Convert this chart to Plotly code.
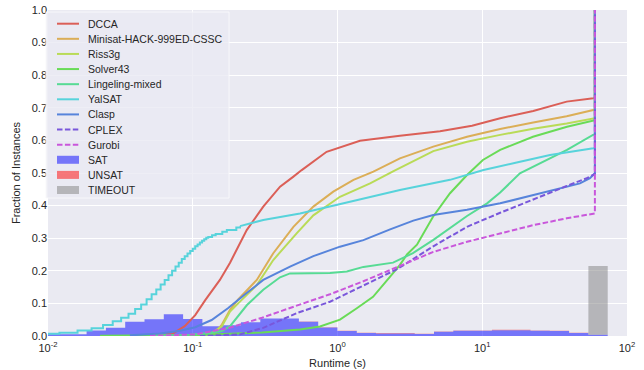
import numpy as np
import plotly.graph_objects as go

# ---------------- data (runtime in seconds, fraction of instances) ----------------
dcca_t = [0.043, 0.059, 0.072, 0.088, 0.104, 0.122, 0.154, 0.181, 0.236, 0.307, 0.401, 0.496, 0.566, 0.841,
          1.43, 2.70, 5.11, 8.5, 13.3, 22.5, 38.3, 58.5, 60, 60]
dcca_f = [0.001, 0.003, 0.006, 0.030, 0.064, 0.110, 0.172, 0.225, 0.325, 0.397, 0.458, 0.489, 0.509, 0.565,
          0.599, 0.614, 0.628, 0.645, 0.668, 0.690, 0.719, 0.729, 0.730, 1.0]

minisat_t = [0.0957, 0.122, 0.143, 0.159, 0.181, 0.206, 0.277, 0.360, 0.496, 0.681, 0.935, 1.29, 1.77,
             2.70, 4.59, 7.85, 13.3, 22.5, 38.3, 58.5, 60, 60]
minisat_f = [0.0, 0.005, 0.010, 0.035, 0.080, 0.112, 0.172, 0.254, 0.335, 0.397, 0.443, 0.479, 0.504,
             0.545, 0.581, 0.611, 0.635, 0.655, 0.674, 0.693, 0.695, 1.0]

riss_t = [0.104, 0.131, 0.159, 0.181, 0.206, 0.277, 0.360, 0.522, 0.681, 1.04, 1.68, 2.42, 4.59, 7.85,
          13.3, 22.5, 38.3, 58.5, 60, 60]
riss_f = [0.0, 0.005, 0.030, 0.075, 0.100, 0.156, 0.233, 0.315, 0.370, 0.427, 0.468, 0.505, 0.567, 0.596,
          0.617, 0.636, 0.652, 0.666, 0.668, 1.0]

solver43_t = [0.0229, 0.104, 0.301, 0.551, 0.757, 1.04, 1.36, 1.76, 2.31, 2.70, 3.02, 3.54, 4.57, 5.99,
              7.85, 10.1, 13.3, 22.4, 38.5, 58.2, 60, 60]
solver43_f = [0.001, 0.003, 0.011, 0.020, 0.029, 0.050, 0.085, 0.120, 0.182, 0.218, 0.250, 0.280, 0.366, 0.438,
              0.494, 0.540, 0.571, 0.611, 0.642, 0.660, 0.662, 1.0]

lingeling_t = [0.0507, 0.0957, 0.131, 0.159, 0.181, 0.237, 0.307, 0.401, 0.470, 0.887, 1.16, 1.51, 2.42,
               3.32, 4.57, 5.99, 7.85, 10.8, 13.3, 18.2, 26.3, 38.5, 58.2, 60, 60]
lingeling_f = [0.001, 0.004, 0.009, 0.015, 0.030, 0.095, 0.142, 0.180, 0.192, 0.193, 0.198, 0.212, 0.225,
               0.254, 0.294, 0.330, 0.368, 0.407, 0.440, 0.499, 0.535, 0.571, 0.617, 0.618, 1.0]

# YalSAT: quantised start (visible staircase) then smooth part
yalsat_step_t = [0.008, 0.012, 0.016, 0.020, 0.024, 0.028, 0.032, 0.036, 0.040, 0.044, 0.048, 0.052, 0.056,
                 0.060, 0.064, 0.068, 0.072, 0.076, 0.080, 0.084, 0.088, 0.092, 0.096, 0.100, 0.104, 0.108,
                 0.112, 0.116, 0.120, 0.124, 0.128, 0.136, 0.144, 0.160, 0.172, 0.200, 0.212]
yalsat_step_f = [0.007, 0.010, 0.017, 0.024, 0.034, 0.045, 0.056, 0.068, 0.083, 0.097, 0.113, 0.128, 0.143,
                 0.158, 0.172, 0.186, 0.200, 0.213, 0.225, 0.236, 0.245, 0.253, 0.261, 0.268, 0.275, 0.281,
                 0.287, 0.292, 0.297, 0.301, 0.304, 0.309, 0.313, 0.320, 0.325, 0.333, 0.337]
yalsat_t = [0.212, 0.307, 0.551, 1.04, 2.70, 5.99, 10.2, 17.3, 29.4, 58.5, 60, 60]
yalsat_f = [0.337, 0.356, 0.376, 0.405, 0.448, 0.479, 0.509, 0.532, 0.555, 0.576, 0.577, 1.0]

clasp_t = [0.0368, 0.0594, 0.0817, 0.104, 0.135, 0.175, 0.230, 0.307, 0.470, 0.681, 1.04, 1.51, 2.31,
           3.34, 4.59, 7.85, 13.3, 22.5, 34.4, 47.3, 55.5, 60, 60]
clasp_f = [0.002, 0.008, 0.016, 0.027, 0.049, 0.085, 0.128, 0.172, 0.213, 0.245, 0.274, 0.294, 0.327,
           0.354, 0.371, 0.387, 0.407, 0.433, 0.453, 0.468, 0.484, 0.499, 1.0]

cplex_t = [0.112, 0.212, 0.307, 0.522, 0.887, 1.51, 2.58, 4.59, 7.85, 13.3, 22.5, 38.3, 52.7, 60, 60]
cplex_f = [0.0, 0.005, 0.025, 0.070, 0.105, 0.155, 0.205, 0.275, 0.335, 0.378, 0.420, 0.460, 0.484, 0.497, 1.0]

gurobi_t = [0.0507, 0.104, 0.175, 0.301, 0.522, 0.887, 1.51, 2.58, 4.59, 7.85, 13.3, 22.5, 38.3, 58.5, 60, 60]
gurobi_f = [0.0, 0.005, 0.024, 0.056, 0.093, 0.128, 0.168, 0.212, 0.258, 0.289, 0.315, 0.340, 0.361, 0.375,
            0.376, 1.0]

# histogram (30 log-spaced bins from 1e-2 to 1e2), fraction of instances per bin
hist_range = (-2, 2)
n_bins = 30
sat_hist = [0.005, 0.005, 0.017, 0.025, 0.044, 0.051, 0.067, 0.052, 0.030, 0.033,
            0.042, 0.054, 0.054, 0.044, 0.026, 0.015, 0.009, 0.008, 0.008, 0.006,
            0.013, 0.016, 0.016, 0.018, 0.018, 0.016, 0.015, 0.009, 0.004, 0.0]
unsat_hist = [0.0, 0.0, 0.0, 0.0, 0.0, 0.0, 0.0, 0.0, 0.0, 0.0,
              0.0, 0.0, 0.0, 0.0005, 0.001, 0.001, 0.001, 0.001, 0.001, 0.001,
              0.001, 0.001, 0.001, 0.001, 0.001, 0.001, 0.001, 0.001, 0.0, 0.0]
timeout_hist = [0.0] * 28 + [0.211, 0.0]

x_tick_vals = [0.01, 0.1, 1, 10, 100]
x_tick_text = ["10<sup>-2</sup>", "10<sup>-1</sup>", "10<sup>0</sup>", "10<sup>1</sup>", "10<sup>2</sup>"]

solvers = [
    ("DCCA", dcca_t, dcca_f, "#db5f57", "solid"),
    ("Minisat-HACK-999ED-CSSC", minisat_t, minisat_f, "#dbae57", "solid"),
    ("Riss3g", riss_t, riss_f, "#b9db57", "solid"),
    ("Solver43", solver43_t, solver43_f, "#69db57", "solid"),
    ("Lingeling-mixed", lingeling_t, lingeling_f, "#57db94", "solid"),
    ("YalSAT", yalsat_t, yalsat_f, "#57d3db", "solid"),
    ("Clasp", clasp_t, clasp_f, "#5784db", "solid"),
    ("CPLEX", cplex_t, cplex_f, "#7957db", "5.5px,2.4px"),
    ("Gurobi", gurobi_t, gurobi_f, "#c957db", "5.5px,2.4px"),
]
hist_specs = [("SAT", sat_hist, "rgba(0,0,255,0.5)"),
              ("UNSAT", unsat_hist, "rgba(255,0,0,0.5)"),
              ("TIMEOUT", timeout_hist, "rgba(128,128,128,0.5)")]

# ---------------- figure ----------------
W, H = 644, 370
ML, MR, MT, MB = 48, 17, 10, 34
PW, PH = W - ML - MR, H - MT - MB

edges = np.logspace(hist_range[0], hist_range[1], n_bins + 1)

fig = go.Figure()

# stacked step histograms (drawn first so curves lie on top)
for name, vals, col in hist_specs:
    fig.add_trace(go.Scatter(x=edges, y=list(vals) + [vals[-1]], mode="lines", line_shape="hv",
                             stackgroup="hist", fillcolor=col, line=dict(width=0, color=col),
                             name=name, showlegend=False, hoverinfo="skip"))

for name, t, f, col, dash in solvers:
    if name == "YalSAT":
        fig.add_trace(go.Scatter(x=yalsat_step_t, y=yalsat_step_f, mode="lines", line_shape="hv",
                                 line=dict(color=col, width=2), showlegend=False, hoverinfo="skip"))
    fig.add_trace(go.Scatter(x=t, y=f, mode="lines", name=name, showlegend=False,
                             line=dict(color=col, width=2, dash=dash)))


# ---- legend (compact, matplotlib-like spacing); positions given in page pixels ----
def px_x(p):
    return (p - ML) / PW


def px_y(p):
    return (MT + PH - p) / PH


shapes = []
annotations = []
legend_left, legend_right, legend_top, legend_bottom = 46, 229, 12, 198
shapes.append(dict(type="rect", xref="paper", yref="paper",
                   x0=px_x(legend_left), x1=px_x(legend_right),
                   y0=px_y(legend_bottom), y1=px_y(legend_top),
                   fillcolor="rgba(234,234,242,0.8)", line=dict(color="rgba(250,250,252,0.9)", width=1),
                   layer="above"))
entries = [(n, c, d, "line") for n, _, _, c, d in solvers] + [(n, c, None, "bar") for n, _, c in hist_specs]
row0, row_step = 23.7, 15.12
sw0, sw1, text_x = 57, 79, 86
for i, (name, col, dash, kind) in enumerate(entries):
    yc = row0 + i * row_step
    if kind == "line":
        shapes.append(dict(type="line", xref="paper", yref="paper",
                           x0=px_x(sw0), x1=px_x(sw1), y0=px_y(yc), y1=px_y(yc),
                           line=dict(color=col, width=2, dash=dash), layer="above"))
    else:
        shapes.append(dict(type="rect", xref="paper", yref="paper",
                           x0=px_x(sw0), x1=px_x(sw1), y0=px_y(yc + 4), y1=px_y(yc - 4),
                           fillcolor=col, line=dict(width=0), layer="above"))
    annotations.append(dict(text=name, xref="paper", yref="paper", x=px_x(text_x), y=px_y(yc),
                            xanchor="left", yanchor="middle", showarrow=False,
                            font=dict(size=10.5, color="#262626")))

font_family = "Liberation Sans, Arial, sans-serif"
fig.update_layout(
    width=W, height=H,
    margin=dict(l=ML, r=MR, t=MT, b=MB, autoexpand=False),
    paper_bgcolor="white",
    plot_bgcolor="#EAEAF2",
    font=dict(family=font_family, size=11, color="#262626"),
    showlegend=False,
    shapes=shapes,
    annotations=annotations,
)
fig.update_xaxes(type="log", range=[-2, 2], tickvals=x_tick_vals, ticktext=x_tick_text,
                 showgrid=True, gridcolor="white", gridwidth=1, zeroline=False, automargin=False,
                 showline=False, ticks="", ticklabelstandoff=4,
                 title=dict(text="Runtime (s)", standoff=6, font=dict(size=11)),
                 tickfont=dict(size=11, color="#262626"))
fig.update_yaxes(range=[0, 1], dtick=0.1, tickformat=".1f", automargin=False,
                 showgrid=True, gridcolor="white", gridwidth=1, zeroline=False,
                 showline=False, ticks="",
                 title=dict(text="Fraction of Instances", standoff=8, font=dict(size=11)),
                 tickfont=dict(size=11, color="#262626"))

# remove the browser's default 8px page margin so the figure sits at the window's corner
fig.write_html("out.html", config={"displayModeBar": False},
               post_script="document.body.style.margin='0px';")
